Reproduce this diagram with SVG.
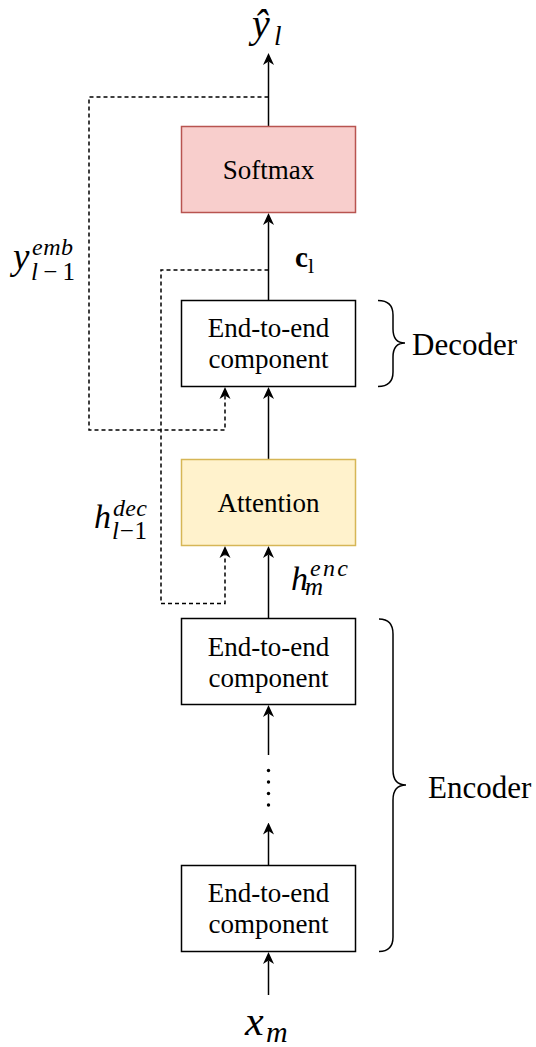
<svg xmlns="http://www.w3.org/2000/svg" width="536" height="1047" viewBox="0 0 536 1047">
<style>
.box{stroke:#000;stroke-width:1.5;fill:#fff}
.lbl{font-family:"Liberation Serif",serif;font-size:27px;fill:#000;text-anchor:middle}
.big{font-family:"Liberation Serif",serif;font-size:31px;fill:#000}
.m{font-family:"Liberation Serif",serif;font-style:italic;fill:#000}
.ln{stroke:#000;stroke-width:1.5;fill:none;marker-end:url(#ah)}
.dash{stroke-dasharray:4 3}
.brace{stroke:#000;stroke-width:1.5;fill:none}
</style>
<defs>
<marker id="ah" viewBox="0 0 12 12" refX="3.5" refY="6" markerWidth="12" markerHeight="12" markerUnits="userSpaceOnUse" orient="auto">
<path d="M0,0.5 L12,6 L0,11.5 L3.5,6 z" fill="#000"/>
</marker>
</defs>
<rect width="536" height="1047" fill="#fff"/>
<g id="connectors">
<path class="ln" d="M268.5,126 V61.5"/>
<path class="ln" d="M268.5,300 V221.5"/>
<path class="ln" d="M268.5,459 V395.5"/>
<path class="ln" d="M268.5,618 V554.5"/>
<path class="ln" d="M268.5,755 V713.5"/>
<path class="ln" d="M268.5,865 V831"/>
<path class="ln" d="M268.5,995 V960.5"/>
<path class="ln dash" d="M268.5,97 H89 V430 H225 V395.5"/>
<path class="ln dash" d="M268.5,270 H161 V603.5 H225 V554.5"/>
<circle cx="268.5" cy="770.5" r="1.7"/>
<circle cx="268.5" cy="782" r="1.7"/>
<circle cx="268.5" cy="793.5" r="1.7"/>
<circle cx="268.5" cy="805" r="1.7"/>
</g>
<g id="softmax">
<rect x="181.5" y="126.5" width="174" height="86" fill="#f8cecc" stroke="#b85450" stroke-width="1.5"/>
<text class="lbl" x="268.5" y="179">Softmax</text>
</g>
<g id="decoder">
<rect class="box" x="181.5" y="300.5" width="174" height="86"/>
<text class="lbl" x="268.5" y="337">End-to-end</text>
<text class="lbl" x="268.5" y="368">component</text>
</g>
<g id="attention">
<rect x="181.5" y="459.5" width="174" height="86" fill="#fff2cc" stroke="#d6b656" stroke-width="1.5"/>
<text class="lbl" x="268.5" y="512">Attention</text>
</g>
<g id="encoder-top">
<rect class="box" x="181.5" y="618.5" width="174" height="86"/>
<text class="lbl" x="268.5" y="656">End-to-end</text>
<text class="lbl" x="268.5" y="687">component</text>
</g>
<g id="encoder-bottom">
<rect class="box" x="181.5" y="865.5" width="174" height="86"/>
<text class="lbl" x="268.5" y="902">End-to-end</text>
<text class="lbl" x="268.5" y="933">component</text>
</g>
<g id="decoder-brace">
<path class="brace" d="M378,300.5 Q393,300.5 393,315 L393,329 Q393,343 405,343 Q393,343 393,357 L393,372 Q393,386.5 378,386.5"/>
<text class="big" x="412" y="355">Decoder</text>
</g>
<g id="encoder-brace">
<path class="brace" d="M379,619 Q393,619 393,634 L393,770 Q393,785 406,785 Q393,785 393,800 L393,937 Q393,951.5 379,951.5"/>
<text class="big" x="428" y="798">Encoder</text>
</g>
<g id="labels">
<text class="m" x="252" y="37" font-size="40">ŷ</text>
<text class="m" x="274" y="45" font-size="27">l</text>
<text x="295" y="267" font-family="Liberation Serif,serif" font-weight="bold" font-size="29">c</text>
<text x="308" y="273" font-family="Liberation Serif,serif" font-size="22">l</text>
<text class="m" x="13" y="269" font-size="37">y</text>
<text class="m" x="32" y="255" font-size="24" textLength="41">emb</text>
<text class="m" x="31" y="280" font-size="25" textLength="44">l<tspan font-style="normal">−1</tspan></text>
<text class="m" x="94" y="528" font-size="34">h</text>
<text class="m" x="113" y="516" font-size="24" textLength="34">dec</text>
<text class="m" x="112" y="539" font-size="25" textLength="35">l<tspan font-style="normal">−1</tspan></text>
<text class="m" x="291" y="590" font-size="34">h</text>
<text class="m" x="310" y="576" font-size="24" textLength="38">enc</text>
<text class="m" x="305" y="595" font-size="25" textLength="20">m</text>
<text class="m" x="245" y="1035" font-size="42">x</text>
<text class="m" x="266" y="1042" font-size="30">m</text>
</g>
</svg>
